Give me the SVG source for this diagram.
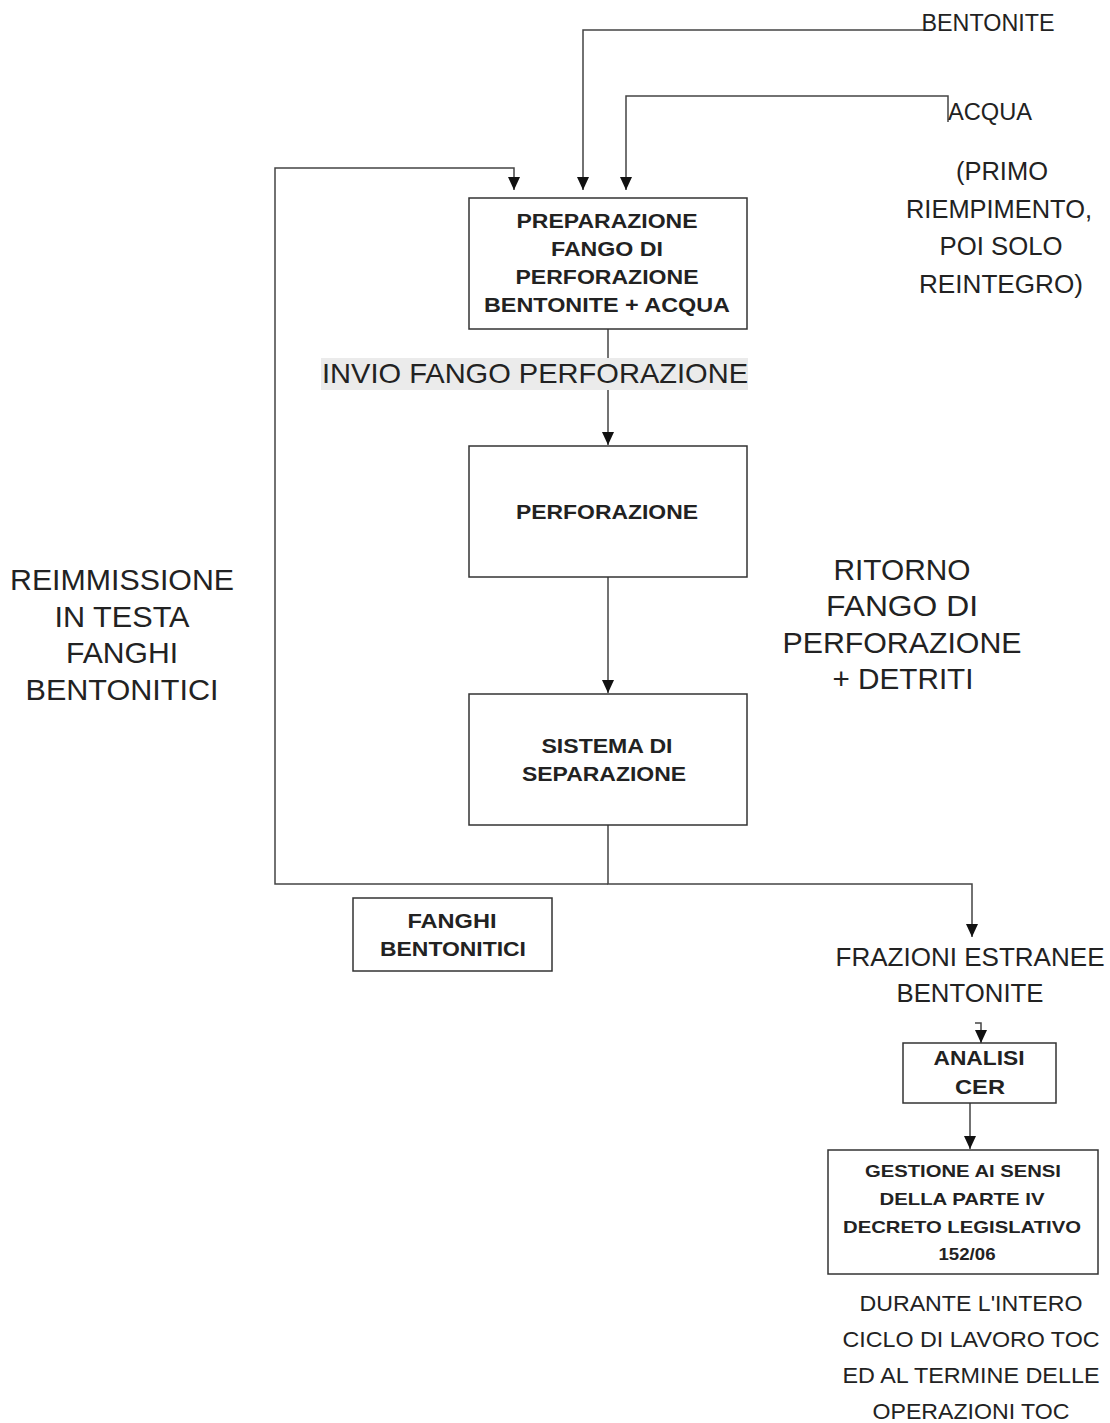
<svg xmlns="http://www.w3.org/2000/svg" width="1110" height="1423" viewBox="0 0 1110 1423">
<defs>
<marker id="ah" markerWidth="13" markerHeight="12" refX="13" refY="6" orient="auto" markerUnits="userSpaceOnUse" viewBox="0 0 13 12">
<path d="M0,0 L13,6 L0,12 Z" fill="#111"/>
</marker>
<style>
.box{fill:#fff;stroke:#333;stroke-width:1.5}
.ln{fill:none;stroke:#444;stroke-width:1.5}
.b{font-family:"Liberation Sans",Arial,sans-serif;font-weight:bold;fill:#222;text-anchor:middle}
.r{font-family:"Liberation Sans",Arial,sans-serif;fill:#222;text-anchor:middle}
</style>
</defs>
<g id="connectors">
<polyline class="ln" points="925,30 583,30 583,190" marker-end="url(#ah)"/>
<polyline class="ln" points="948,122 948,96 626,96 626,190" marker-end="url(#ah)"/>
<polyline class="ln" points="608,884 275,884 275,168 514,168 514,190" marker-end="url(#ah)"/>
<polyline class="ln" points="608,329 608,445" marker-end="url(#ah)"/>
<polyline class="ln" points="608,577 608,693" marker-end="url(#ah)"/>
<polyline class="ln" points="608,825 608,884 972,884 972,937" marker-end="url(#ah)"/>
<polyline class="ln" points="975,1023 981,1023 981,1043" marker-end="url(#ah)"/>
<polyline class="ln" points="970,1103 970,1149" marker-end="url(#ah)"/>
</g>
<g id="label-invio">
<rect x="321" y="358" width="427" height="32" fill="#ebebeb"/>
<text class="r" x="535" y="383" font-size="28" textLength="426" lengthAdjust="spacingAndGlyphs">INVIO FANGO PERFORAZIONE</text>
</g>
<g id="node-preparazione">
<rect class="box" x="469" y="198" width="278" height="131"/>
<text class="b" font-size="20"><tspan x="607" y="228" textLength="181" lengthAdjust="spacingAndGlyphs">PREPARAZIONE</tspan><tspan x="607" y="256" textLength="112" lengthAdjust="spacingAndGlyphs">FANGO DI</tspan><tspan x="607" y="284" textLength="183" lengthAdjust="spacingAndGlyphs">PERFORAZIONE</tspan><tspan x="607" y="312" textLength="246" lengthAdjust="spacingAndGlyphs">BENTONITE + ACQUA</tspan></text>
</g>
<g id="node-perforazione">
<rect class="box" x="469" y="446" width="278" height="131"/>
<text class="b" font-size="20" x="607" y="519" textLength="182" lengthAdjust="spacingAndGlyphs">PERFORAZIONE</text>
</g>
<g id="node-separazione">
<rect class="box" x="469" y="694" width="278" height="131"/>
<text class="b" font-size="20"><tspan x="607" y="753" textLength="131" lengthAdjust="spacingAndGlyphs">SISTEMA DI</tspan><tspan x="604" y="781" textLength="164" lengthAdjust="spacingAndGlyphs">SEPARAZIONE</tspan></text>
</g>
<g id="node-fanghi">
<rect class="box" x="353" y="898" width="199" height="73"/>
<text class="b" font-size="20"><tspan x="452" y="928" textLength="89" lengthAdjust="spacingAndGlyphs">FANGHI</tspan><tspan x="453" y="956" textLength="146" lengthAdjust="spacingAndGlyphs">BENTONITICI</tspan></text>
</g>
<g id="node-analisi">
<rect class="box" x="903" y="1043" width="153" height="60"/>
<text class="b" font-size="20"><tspan x="979" y="1065" textLength="91" lengthAdjust="spacingAndGlyphs">ANALISI</tspan><tspan x="980" y="1094" textLength="50" lengthAdjust="spacingAndGlyphs">CER</tspan></text>
</g>
<g id="node-gestione">
<rect class="box" x="828" y="1150" width="270" height="124"/>
<text class="b" font-size="17"><tspan x="963" y="1177" textLength="196" lengthAdjust="spacingAndGlyphs">GESTIONE AI SENSI</tspan><tspan x="962" y="1205" textLength="165" lengthAdjust="spacingAndGlyphs">DELLA PARTE IV</tspan><tspan x="962" y="1233" textLength="238" lengthAdjust="spacingAndGlyphs">DECRETO LEGISLATIVO</tspan><tspan x="967" y="1260" textLength="57" lengthAdjust="spacingAndGlyphs">152/06</tspan></text>
</g>
<g id="labels">
<text class="r" font-size="23" x="988" y="31" textLength="133" lengthAdjust="spacingAndGlyphs">BENTONITE</text>
<text class="r" font-size="23" x="990" y="120" textLength="84" lengthAdjust="spacingAndGlyphs">ACQUA</text>
<text class="r" font-size="25"><tspan x="1002" y="180" textLength="92" lengthAdjust="spacingAndGlyphs">(PRIMO</tspan><tspan x="999" y="218" textLength="186" lengthAdjust="spacingAndGlyphs">RIEMPIMENTO,</tspan><tspan x="1001" y="255" textLength="123" lengthAdjust="spacingAndGlyphs">POI SOLO</tspan><tspan x="1001" y="293" textLength="164" lengthAdjust="spacingAndGlyphs">REINTEGRO)</tspan></text>
<text class="r" font-size="29"><tspan x="122" y="590" textLength="224" lengthAdjust="spacingAndGlyphs">REIMMISSIONE</tspan><tspan x="122" y="627" textLength="135" lengthAdjust="spacingAndGlyphs">IN TESTA</tspan><tspan x="122" y="663" textLength="112" lengthAdjust="spacingAndGlyphs">FANGHI</tspan><tspan x="122" y="700" textLength="193" lengthAdjust="spacingAndGlyphs">BENTONITICI</tspan></text>
<text class="r" font-size="29"><tspan x="902" y="580" textLength="137" lengthAdjust="spacingAndGlyphs">RITORNO</tspan><tspan x="902" y="616" textLength="152" lengthAdjust="spacingAndGlyphs">FANGO  DI</tspan><tspan x="902" y="653" textLength="239" lengthAdjust="spacingAndGlyphs">PERFORAZIONE</tspan><tspan x="903" y="689" textLength="141" lengthAdjust="spacingAndGlyphs">+ DETRITI</tspan></text>
<text class="r" font-size="25"><tspan x="970" y="966" textLength="269" lengthAdjust="spacingAndGlyphs">FRAZIONI ESTRANEE</tspan><tspan x="970" y="1002" textLength="147" lengthAdjust="spacingAndGlyphs">BENTONITE</tspan></text>
<text class="r" font-size="22" fill="#333"><tspan x="971" y="1311" textLength="223" lengthAdjust="spacingAndGlyphs">DURANTE L'INTERO</tspan><tspan x="971" y="1347" textLength="257" lengthAdjust="spacingAndGlyphs">CICLO DI LAVORO TOC</tspan><tspan x="971" y="1383" textLength="257" lengthAdjust="spacingAndGlyphs">ED AL TERMINE DELLE</tspan><tspan x="971" y="1419" textLength="197" lengthAdjust="spacingAndGlyphs">OPERAZIONI TOC</tspan></text>
</g>
</svg>
